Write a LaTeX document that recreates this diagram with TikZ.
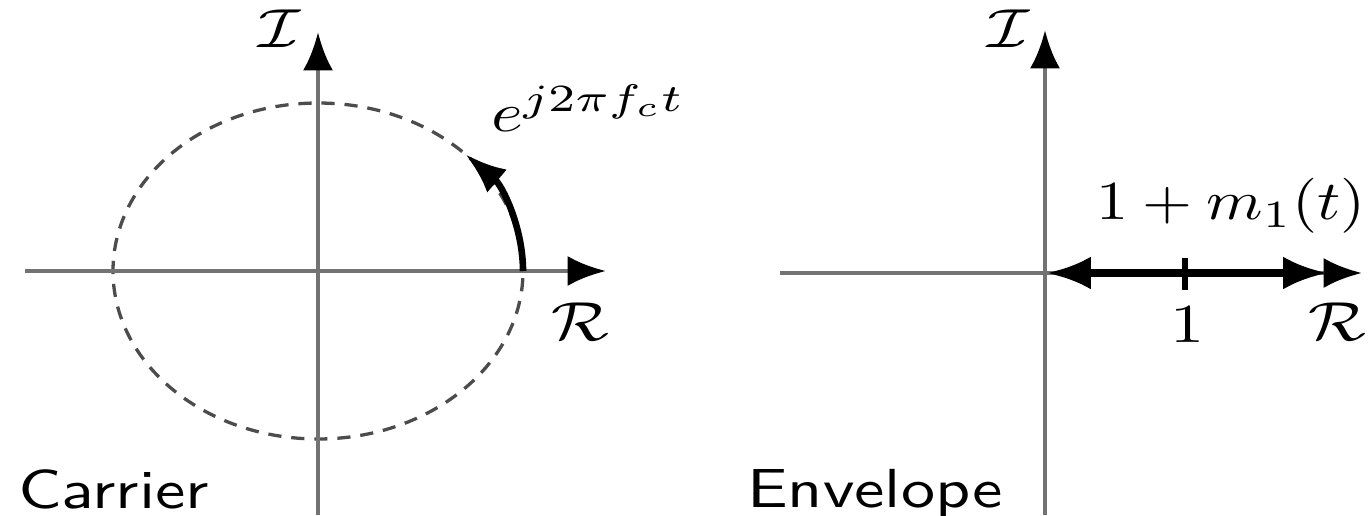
\documentclass[tikz,border=0pt]{standalone}
\usepackage{graphicx}
\usepackage{amsmath}
\usetikzlibrary{
  arrows.meta,
  positioning
}
\newcommand{\wide}[1]{\scalebox{1.24}[1]{#1}}
\tikzset{
  every node/.style={font=\normalsize, text=black, inner sep=0pt},
  panel label/.style={font=\sffamily\normalsize},
  axisline/.style={
    -{Latex[length=7pt,width=5.5pt,color=black]},
    line width=0.9pt,
    draw=black!55
  },
  carrierpath/.style={
    dashed,
    dash pattern=on 2.4pt off 1.8pt,
    line width=0.6pt,
    draw=black!70
  },
  phasor/.style={
    -{Latex[length=7.5pt,width=5.5pt]},
    line width=1.2pt,
    draw=black
  },
  envelopearrow/.style={
    {Latex[length=8pt,width=6pt]}-{Latex[length=8pt,width=6pt]},
    line width=1.3pt,
    draw=black
  },
  ticklines/.style={line width=1.1pt, draw=black}
}

\begin{document}
\begin{tikzpicture}[x=0.0064cm, y=0.0064cm]
  \useasboundingbox (0,0) rectangle (1369,515);

  \coordinate (carrierO) at (318,244);
  \coordinate (carrierW) at (25,244);
  \coordinate (carrierE) at (606,244);
  \coordinate (carrierS) at (318,0);
  \coordinate (carrierN) at (318,483);

  \draw[carrierpath] (carrierO) ellipse[x radius=205, y radius=168];
  \draw[axisline] (carrierW) -- (carrierE);
  \draw[axisline] (carrierS) -- (carrierN);
  \coordinate (phasorstart) at (523,244);
  \draw[phasor] (phasorstart) arc[start angle=0, end angle=44, x radius=205, y radius=168];

  \node[anchor=base] (carrierim) at (280,468) {\wide{$\mathcal{I}$}};
  \node[anchor=base] (carrierre) at (580,175) {\wide{$\mathcal{R}$}};
  \node[anchor=base west] (carrierexp) at (490,384) {\wide{$e^{j2\pi f_c t}$}};
  \node[panel label, anchor=base west] (carrier) at (17,7) {\wide{Carrier}};

  \coordinate (envO) at (1045,242);
  \coordinate (envW) at (780,242);
  \coordinate (envE) at (1362,242);
  \coordinate (envS) at (1045,0);
  \coordinate (envN) at (1045,485);
  \coordinate (envstart) at (1047,242);
  \coordinate (envend) at (1327,242);
  \coordinate (tickhi) at (1185,257);
  \coordinate (ticklo) at (1185,225);

  \draw[axisline] (envW) -- (envE);
  \draw[axisline] (envS) -- (envN);
  \draw[envelopearrow] (envstart) -- (envend);
  \draw[ticklines] (tickhi) -- (ticklo);

  \node[anchor=base] (envim) at (1009,468) {\wide{$\mathcal{I}$}};
  \node[anchor=base] (envre) at (1337,175) {\wide{$\mathcal{R}$}};
  \node[anchor=base] (envone) at (1188,173) {\wide{$1$}};
  \node[anchor=base west] (envmod) at (1095,296) {\scalebox{1.17}[1]{$1+m_1(t)$}};
  \node[panel label, anchor=base west] (envelope) at (746,8) {\wide{Envelope}};
\end{tikzpicture}
\end{document}
